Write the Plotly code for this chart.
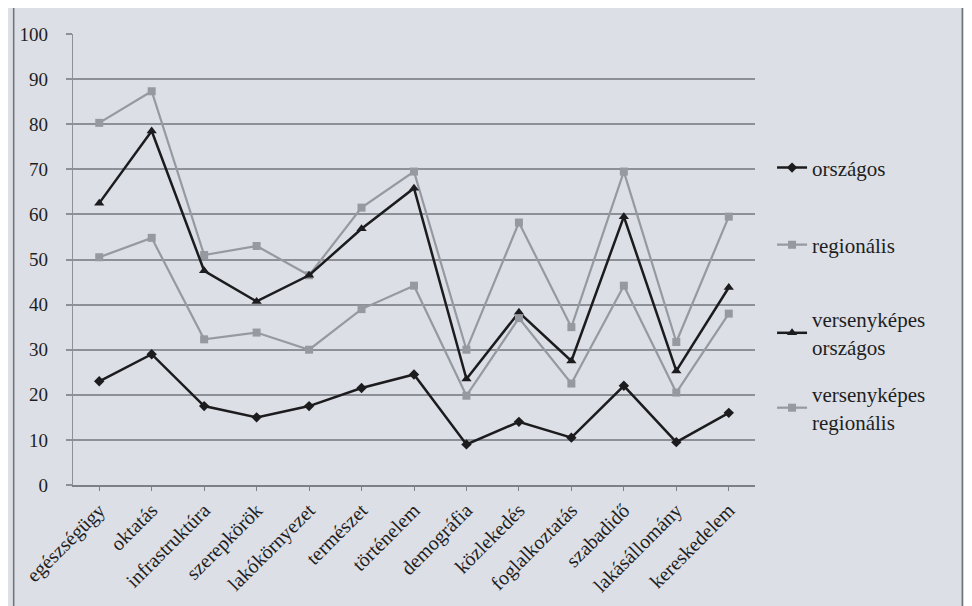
import plotly.graph_objects as go

categories = ["egészségügy", "oktatás", "infrastruktúra", "szerepkörök", "lakókörnyezet",
              "természet", "történelem", "demográfia", "közlekedés", "foglalkoztatás",
              "szabadidő", "lakásállomány", "kereskedelem"]
orszagos = [23, 29, 17.5, 15, 17.5, 21.5, 24.5, 9, 14, 10.5, 22, 9.5, 16]
regionalis = [80.3, 87.3, 51, 53, 46.5, 61.5, 69.5, 30, 58.2, 35, 69.5, 31.7, 59.5]
versenykepes_orszagos = [62.5, 78.5, 47.5, 40.7, 46.5, 56.8, 65.8, 23.5, 38.3, 27.5, 59.5, 25.3, 43.8]
versenykepes_regionalis = [50.5, 54.8, 32.3, 33.8, 30, 39, 44.2, 19.8, 37, 22.5, 44.2, 20.5, 38]
y_ticks = [0, 10, 20, 30, 40, 50, 60, 70, 80, 90, 100]

BLACK = "#1c1c1f"
GRAY = "#96999f"
BG = "#dcdfe6"
TXT = "#1e1e22"
FONT = "Liberation Serif"

fig = go.Figure()
fig.add_trace(go.Scatter(x=categories, y=orszagos, name="országos", mode="lines+markers",
                         line=dict(color=BLACK, width=2.5),
                         marker=dict(symbol="diamond", size=8, color=BLACK),
                         legend="legend"))
fig.add_trace(go.Scatter(x=categories, y=regionalis, name="regionális", mode="lines+markers",
                         line=dict(color=GRAY, width=2.2),
                         marker=dict(symbol="square", size=8, color=GRAY),
                         legend="legend2"))
fig.add_trace(go.Scatter(x=categories, y=versenykepes_orszagos, name="versenyképes<br>országos",
                         mode="lines+markers",
                         line=dict(color=BLACK, width=2.5),
                         marker=dict(symbol="triangle-up", size=9, color=BLACK),
                         legend="legend3"))
fig.add_trace(go.Scatter(x=categories, y=versenykepes_regionalis, name="versenyképes<br>regionális",
                         mode="lines+markers",
                         line=dict(color=GRAY, width=2.2),
                         marker=dict(symbol="square", size=8, color=GRAY),
                         legend="legend4"))

leg_common = dict(x=1.025, xanchor="left", yanchor="middle", bgcolor="rgba(0,0,0,0)",
                  font=dict(family=FONT, size=21, color=TXT), itemwidth=30)

fig.update_layout(
    width=972, height=606,
    margin=dict(l=60, r=225, t=26, b=129),
    paper_bgcolor=BG, plot_bgcolor=BG,
    font=dict(family=FONT, size=18, color=TXT),
    showlegend=True,
    legend=dict(y=0.703, **leg_common),
    legend2=dict(y=0.532, **leg_common),
    legend3=dict(y=0.337, **leg_common),
    legend4=dict(y=0.171, **leg_common),
    xaxis=dict(type="category", range=[-0.5, 12.5], tickangle=-45,
               showgrid=False, showline=True, linecolor="#7d8087", linewidth=1.5,
               ticks="outside", ticklen=4, tickcolor="#7d8087",
               tickfont=dict(family=FONT, size=20, color=TXT)),
    yaxis=dict(range=[0, 100], tickvals=y_ticks, showgrid=True,
               gridcolor="#8d9097", gridwidth=1.5, zeroline=False,
               showline=True, linecolor="#8d9097", linewidth=1.2,
               ticks="outside", ticklen=6, tickcolor="#8d9097", tickwidth=1.5,
               ticklabelstandoff=14,
               tickfont=dict(family=FONT, size=19, color=TXT)),
)

# outer chart frame (left and right borders of the scanned chart area)
fig.add_shape(type="line", xref="paper", yref="paper", x0=-0.087, x1=-0.087, y0=-0.3, y1=1.1,
              line=dict(color="#6f7279", width=1.5))
fig.add_shape(type="line", xref="paper", yref="paper", x0=1.304, x1=1.304, y0=-0.3, y1=1.1,
              line=dict(color="#6f7279", width=1.5))

fig.write_html("out.html")
